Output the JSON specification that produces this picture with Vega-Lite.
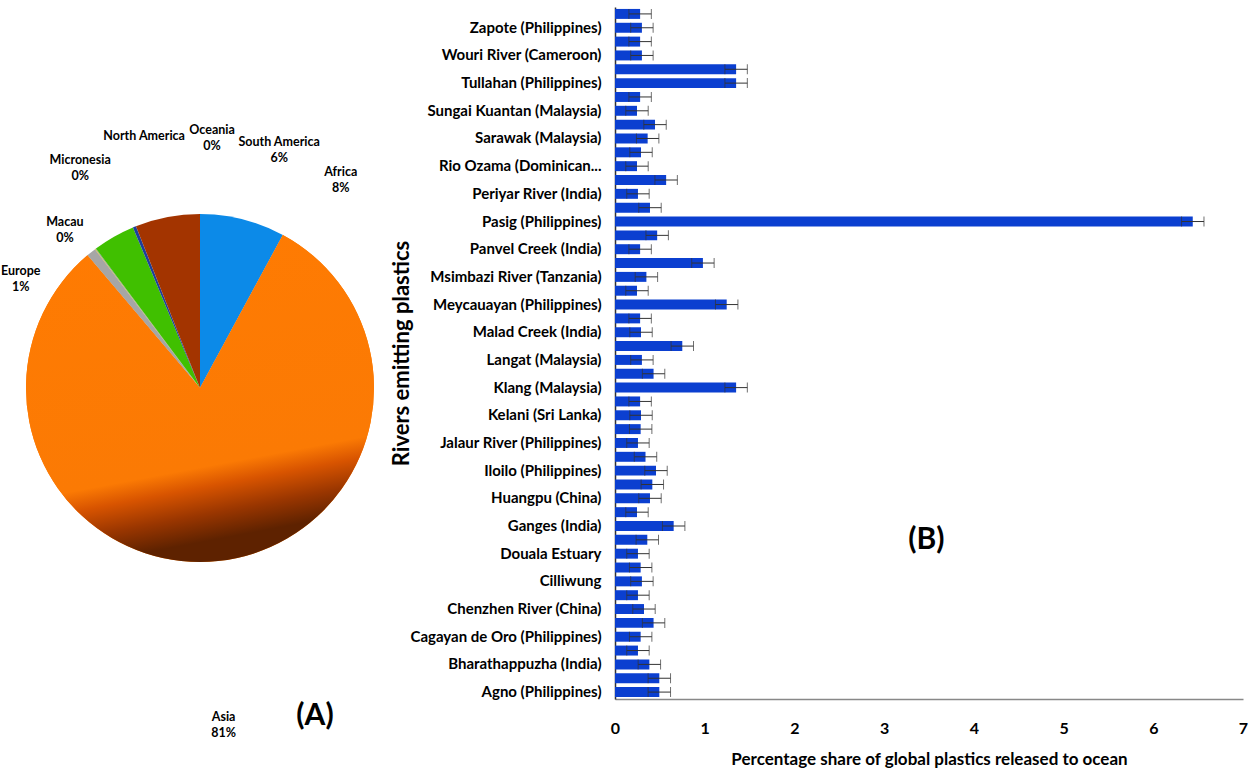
{
  "$schema": "https://vega.github.io/schema/vega-lite/v6.json",
  "background": "white",
  "padding": {"left": 0, "top": 6, "right": 5, "bottom": 0},
  "spacing": -7,
  "config": {
    "view": {"stroke": null},
    "font": "Lato, sans-serif"
  },
  "hconcat": [
    {
      "width": 394,
      "height": 762,
      "data": {
        "values": [
          {"continent": "Africa", "share": 7.9, "label": "Africa\n8%"},
          {"continent": "Asia", "share": 80.9, "label": "Asia\n81%"},
          {"continent": "Europe", "share": 0.9, "label": "Europe\n1%"},
          {"continent": "Macau", "share": 0.05, "label": "Macau\n0%"},
          {"continent": "Micronesia", "share": 0.05, "label": "Micronesia\n0%"},
          {"continent": "North America", "share": 3.9, "label": "North America"},
          {"continent": "Oceania", "share": 0.3, "label": "Oceania\n0%"},
          {"continent": "South America", "share": 6.0, "label": "South America\n6%"}
        ]
      },
      "title": {
        "text": "(A)",
        "orient": "bottom",
        "anchor": "middle",
        "dx": 115,
        "offset": -68,
        "fontSize": 30,
        "fontWeight": "bold",
        "color": "#000"
      },
      "layer": [
        {
          "mark": {"type": "arc", "outerRadius": 174},
          "encoding": {
            "theta": {"field": "share", "type": "quantitative", "stack": true},
            "color": {
              "field": "continent",
              "type": "nominal",
              "scale": {
                "domain": ["Africa", "Asia", "Europe", "Macau", "Micronesia", "North America", "Oceania", "South America"],
                "range": ["#0c8ae8", "#ff7b02", "#a6a6a6", "#f5c400", "#4f81bd", "#40c000", "#1d3f9c", "#a33400"]
              },
              "legend": null
            }
          }
        },
        {
          "mark": {
            "type": "arc",
            "outerRadius": 174,
            "fill": {
              "gradient": "linear",
              "x1": 0, "y1": 0, "x2": 0.2, "y2": 1,
              "stops": [
                {"offset": 0, "color": "#ff7b02"},
                {"offset": 0.78, "color": "#fb7a04"},
                {"offset": 0.84, "color": "#d85400"},
                {"offset": 0.92, "color": "#9a3600"},
                {"offset": 1, "color": "#5e2200"}
              ]
            }
          },
          "encoding": {
            "theta": {"field": "share", "type": "quantitative", "stack": true},
            "opacity": {"condition": {"test": "datum.continent == 'Asia'", "value": 1}, "value": 0}
          }
        },
        {
          "transform": [{"filter": "indexof(['Europe', 'Macau'], datum.continent) >= 0"}],
          "mark": {"type": "text", "radius": 214, "fontSize": 12.5, "fontWeight": "bold", "lineBreak": "\n", "lineHeight": 16, "color": "#000"},
          "encoding": {
            "theta": {
              "field": "continent",
              "type": "nominal",
              "scale": {"type": "point", "padding": 0, "domain": ["Europe", "Macau"], "range": [5.29, 5.60]}
            },
            "text": {"field": "label"}
          }
        },
        {
          "transform": [{"filter": "indexof(['Micronesia', 'North America', 'Oceania', 'South America', 'Africa'], datum.continent) >= 0"}],
          "mark": {"type": "text", "radius": 258, "fontSize": 12.5, "fontWeight": "bold", "lineBreak": "\n", "lineHeight": 16, "color": "#000"},
          "encoding": {
            "theta": {
              "field": "continent",
              "type": "nominal",
              "scale": {"type": "point", "padding": 0, "domain": ["Micronesia", "North America", "Oceania", "South America", "Africa"], "range": [5.80, 6.86]}
            },
            "text": {"field": "label"}
          }
        },
        {
          "transform": [{"filter": "datum.continent == 'Asia'"}],
          "mark": {"type": "text", "radius": 330, "fontSize": 12.5, "fontWeight": "bold", "lineBreak": "\n", "lineHeight": 16, "color": "#000"},
          "encoding": {
            "theta": {
              "field": "continent",
              "type": "nominal",
              "scale": {"type": "point", "padding": 0, "domain": ["Asia"], "range": [3.07, 3.07]}
            },
            "text": {"field": "label"}
          }
        }
      ],
      "resolve": {"scale": {"theta": "independent"}}
    },
    {
      "width": 628,
      "height": 692,
      "data": {
        "values": [
          {"river": "Agno (Philippines)", "share": 0.494, "err": 0.125},
          {"river": "Agusan (Philippines)", "share": 0.494, "err": 0.125},
          {"river": "Bharathappuzha (India)", "share": 0.383, "err": 0.125},
          {"river": "Brahmaputra (India)", "share": 0.256, "err": 0.125},
          {"river": "Cagayan de Oro (Philippines)", "share": 0.286, "err": 0.125},
          {"river": "Chalakudy (India)", "share": 0.43, "err": 0.125},
          {"river": "Chenzhen River (China)", "share": 0.323, "err": 0.125},
          {"river": "Cidurian (Indonesia)", "share": 0.256, "err": 0.125},
          {"river": "Cilliwung", "share": 0.3, "err": 0.125},
          {"river": "Davao (Philippines)", "share": 0.286, "err": 0.125},
          {"river": "Douala Estuary", "share": 0.256, "err": 0.125},
          {"river": "Fuhe (China)", "share": 0.36, "err": 0.125},
          {"river": "Ganges (India)", "share": 0.654, "err": 0.125},
          {"river": "Haina (Dominican Republic)", "share": 0.245, "err": 0.125},
          {"river": "Huangpu (China)", "share": 0.39, "err": 0.125},
          {"river": "Hugli (India)", "share": 0.416, "err": 0.125},
          {"river": "Iloilo (Philippines)", "share": 0.457, "err": 0.125},
          {"river": "Imus (Philippines)", "share": 0.34, "err": 0.125},
          {"river": "Jalaur River (Philippines)", "share": 0.256, "err": 0.125},
          {"river": "Kallada (India)", "share": 0.286, "err": 0.125},
          {"river": "Kelani (Sri Lanka)", "share": 0.29, "err": 0.125},
          {"river": "Kinta (Malaysia)", "share": 0.28, "err": 0.125},
          {"river": "Klang (Malaysia)", "share": 1.35, "err": 0.125},
          {"river": "Lagos Lagoon (Nigeria)", "share": 0.43, "err": 0.125},
          {"river": "Langat (Malaysia)", "share": 0.3, "err": 0.125},
          {"river": "Libmanan (Philippines)", "share": 0.75, "err": 0.125},
          {"river": "Malad Creek (India)", "share": 0.29, "err": 0.125},
          {"river": "Marikina (Philippines)", "share": 0.28, "err": 0.125},
          {"river": "Meycauayan (Philippines)", "share": 1.245, "err": 0.125},
          {"river": "Mithi (India)", "share": 0.245, "err": 0.125},
          {"river": "Msimbazi River (Tanzania)", "share": 0.35, "err": 0.125},
          {"river": "Pampanga (Philippines)", "share": 0.98, "err": 0.125},
          {"river": "Panvel Creek (India)", "share": 0.28, "err": 0.125},
          {"river": "Paranaque (Philippines)", "share": 0.47, "err": 0.125},
          {"river": "Pasig (Philippines)", "share": 6.44, "err": 0.125},
          {"river": "Pearl (China)", "share": 0.39, "err": 0.125},
          {"river": "Periyar River (India)", "share": 0.256, "err": 0.125},
          {"river": "Rio Grande de Mindanao (Philippines)", "share": 0.57, "err": 0.125},
          {"river": "Rio Ozama (Dominican Republic)", "share": 0.245, "err": 0.125},
          {"river": "San Juan (Philippines)", "share": 0.29, "err": 0.125},
          {"river": "Sarawak (Malaysia)", "share": 0.364, "err": 0.125},
          {"river": "Selangor (Malaysia)", "share": 0.446, "err": 0.125},
          {"river": "Sungai Kuantan (Malaysia)", "share": 0.245, "err": 0.125},
          {"river": "Tinajeros (Philippines)", "share": 0.28, "err": 0.125},
          {"river": "Tullahan (Philippines)", "share": 1.35, "err": 0.125},
          {"river": "Ulhas (India)", "share": 1.35, "err": 0.125},
          {"river": "Wouri River (Cameroon)", "share": 0.3, "err": 0.125},
          {"river": "Yangtze (China)", "share": 0.28, "err": 0.125},
          {"river": "Zapote (Philippines)", "share": 0.3, "err": 0.125},
          {"river": "Zhujiang (China)", "share": 0.28, "err": 0.125}
        ]
      },
      "encoding": {
        "y": {
          "field": "river",
          "type": "nominal",
          "sort": "descending",
          "scale": {"paddingInner": 0.28, "paddingOuter": 0.14},
          "axis": {
            "title": "Rivers emitting plastics",
            "titleFontSize": 22,
            "titleFontWeight": "bold",
            "titleColor": "#000",
            "titlePadding": 2,
            "labelFontSize": 15,
            "labelFontWeight": "bold",
            "labelColor": "#000",
            "labelLimit": 260,
            "labelPadding": 14,
            "labelOverlap": false,
            "ticks": false,
            "domainColor": "#333",
            "domainWidth": 1.5,
            "labelExpr": "round(datum.index*49) % 2 == 1 ? (length(datum.label) > 29 ? truncate(datum.label, 23, 'right', '...') : datum.label) : ''"
          }
        }
      },
      "layer": [
        {
          "mark": {"type": "bar", "color": "#0b3fd0"},
          "encoding": {
            "x": {
              "field": "share",
              "type": "quantitative",
              "title": "Percentage share of global plastics released to ocean",
              "scale": {"domain": [0, 7]},
              "axis": {
                "format": "d",
                "titleFontSize": 17,
                "titleFontWeight": "bold",
                "titleColor": "#000",
                "titlePadding": 15,
                "labelFontSize": 16,
                "labelFontWeight": "bold",
                "labelColor": "#000",
                "labelPadding": 21,
                "labelFlush": false,
                "ticks": false,
                "grid": false,
                "values": [0, 1, 2, 3, 4, 5, 6, 7],
                "domainColor": "#888",
                "domainWidth": 1.5
              }
            }
          }
        },
        {
          "mark": {
            "type": "errorbar",
            "ticks": {"size": 10, "color": "#333", "thickness": 1},
            "rule": {"color": "#333", "strokeWidth": 1}
          },
          "encoding": {
            "x": {"field": "share", "type": "quantitative", "title": "Percentage share of global plastics released to ocean"},
            "xError": {"field": "err"}
          }
        },
        {
          "data": {"values": [{"panel": "(B)"}]},
          "mark": {"type": "text", "fontSize": 30, "fontWeight": "bold", "color": "#000"},
          "encoding": {
            "x": {"datum": 3.47},
            "y": {"datum": "Fuhe (China)"},
            "text": {"field": "panel"}
          }
        }
      ]
    }
  ]
}
